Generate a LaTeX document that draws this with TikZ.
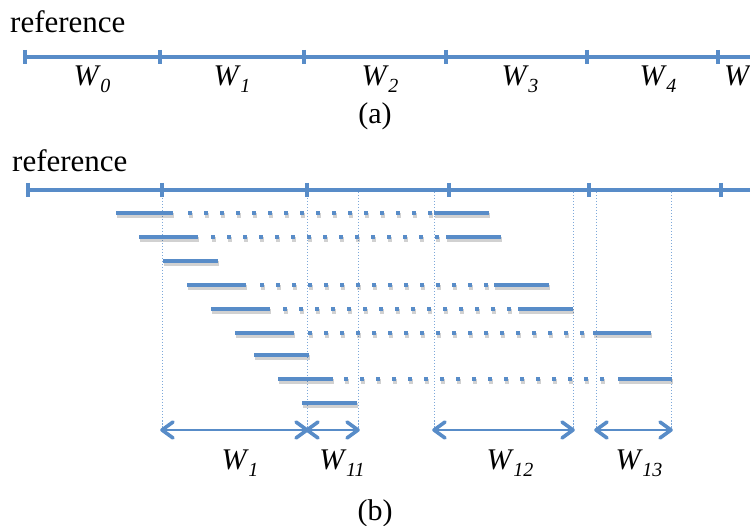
\documentclass[tikz,border=0pt]{standalone}
\usepackage{fontspec}
\setmainfont{Liberation Serif}
\definecolor{axblue}{RGB}{88,140,200}
\definecolor{vlblue}{RGB}{125,168,218}
\newcommand\Wlab[1]{\textit{W}\kern-0.5pt\raisebox{-7pt}{\fontsize{20}{20}\selectfont\textit{#1}}}
\begin{document}
\begin{tikzpicture}[x=1pt,y=-1pt,
  axisline/.style={axblue, line width=3.8pt},
  tickmark/.style={axblue, line width=3.8pt},
  seg/.style={axblue, line width=4.4pt},
  dotseg/.style={axblue, line width=4.4pt, dash pattern=on 4.4pt off 11.6pt},
  segshadow/.style={black, opacity=0.18, line width=4.4pt},
  guide/.style={vlblue, line width=0.9pt, dash pattern=on 1.5pt off 1.5pt},
  dimline/.style={axblue, line width=1.2pt},
  chevron/.style={axblue, line width=3.6pt, line cap=round, line join=round},
  lab/.style={font=\fontsize{30}{30}\selectfont, inner sep=0pt, anchor=base},
  reflab/.style={font=\fontsize{31}{31}\selectfont, inner sep=0pt, anchor=base west},
]
\useasboundingbox (0,0) rectangle (750,526);

% ---------------- (a) ----------------
\node[reflab] (refa) at (10,33) {reference};
\coordinate (a0) at (25,57);
\coordinate (a1) at (160,57);
\coordinate (a2) at (304,57);
\coordinate (a3) at (446,57);
\coordinate (a4) at (587,57);
\coordinate (a5) at (718,57);
\coordinate (aend) at (752,57);
\draw[axisline] (a0) -- (aend);
\foreach \p in {a0,a1,a2,a3,a4,a5}
  \draw[tickmark] (\p) ++(0,-7) -- ++(0,14);
\node[lab] (w0) at (92,86) {\Wlab{0}};
\node[lab] (w1a) at (232,86) {\Wlab{1}};
\node[lab] (w2a) at (380,86) {\Wlab{2}};
\node[lab] (w3a) at (520,86) {\Wlab{3}};
\node[lab] (w4a) at (658,86) {\Wlab{4}};
\node[lab, anchor=base west] (w5a) at (724,86) {\Wlab{5}};
\node[lab] (capa) at (375,124) {(a)};

% ---------------- (b) ----------------
\node[reflab] (refb) at (12,172) {reference};
\coordinate (b0) at (28,190);
\coordinate (b1) at (162,190);
\coordinate (b2) at (307,190);
\coordinate (b3) at (449,190);
\coordinate (b4) at (589,190);
\coordinate (b5) at (721,190);
\coordinate (bend) at (752,190);

% guide lines
\foreach \x/\n in {162/g1,307/g2,358/g3,434/g4,573/g5,596/g6,671/g7}{
  \coordinate (\n t) at (\x,192);
  \coordinate (\n) at (\x,430);
  \draw[guide] (\n t) -- (\n);
}

\draw[axisline] (b0) -- (bend);
\foreach \p in {b0,b1,b2,b3,b4,b5}
  \draw[tickmark] (\p) ++(0,-7) -- ++(0,14);

% solid segments (x1,x2,y)
\foreach \a/\b/\y in {116/173/213, 434/489/213,
                      139/198/237, 446/501/237,
                      163/218/261,
                      187/246/285, 494/549/285,
                      211/270/309, 518/573/309,
                      235/294/333, 593/651/333,
                      254/309/355,
                      278/333/379, 618/672/379,
                      302/357/403}{
  \draw[segshadow] (\a+1,\y+2.5) -- (\b+1,\y+2.5);
  \draw[seg] (\a,\y) -- (\b,\y);
}
% dotted continuations (start, end, y)
\foreach \a/\b/\y in {188/432/213, 211/439/237, 260/488/285,
                      283/511/309, 308/584/333, 344/604/379}{
  \draw[segshadow, dash pattern=on 4.4pt off 11.6pt] (\a+1,\y+2.5) -- (\b+1,\y+2.5);
  \draw[dotseg] (\a,\y) -- (\b,\y);
}

% dimension arrows
\foreach \l/\r in {g1/g2, g2/g3, g4/g5, g6/g7}{
  \draw[dimline] (\l) -- (\r);
  \draw[chevron] (\l) ++(11,-8) -- (\l) -- ++(11,8);
  \draw[chevron] (\r) ++(-11,-8) -- (\r) -- ++(-11,8);
}

\node[lab] (w1b) at (240,470) {\Wlab{1}};
\node[lab] (w11) at (342,470) {\Wlab{11}};
\node[lab] (w12) at (510,470) {\Wlab{12}};
\node[lab] (w13) at (639,470) {\Wlab{13}};
\node[lab] (capb) at (375,520) {(b)};
\end{tikzpicture}
\end{document}
